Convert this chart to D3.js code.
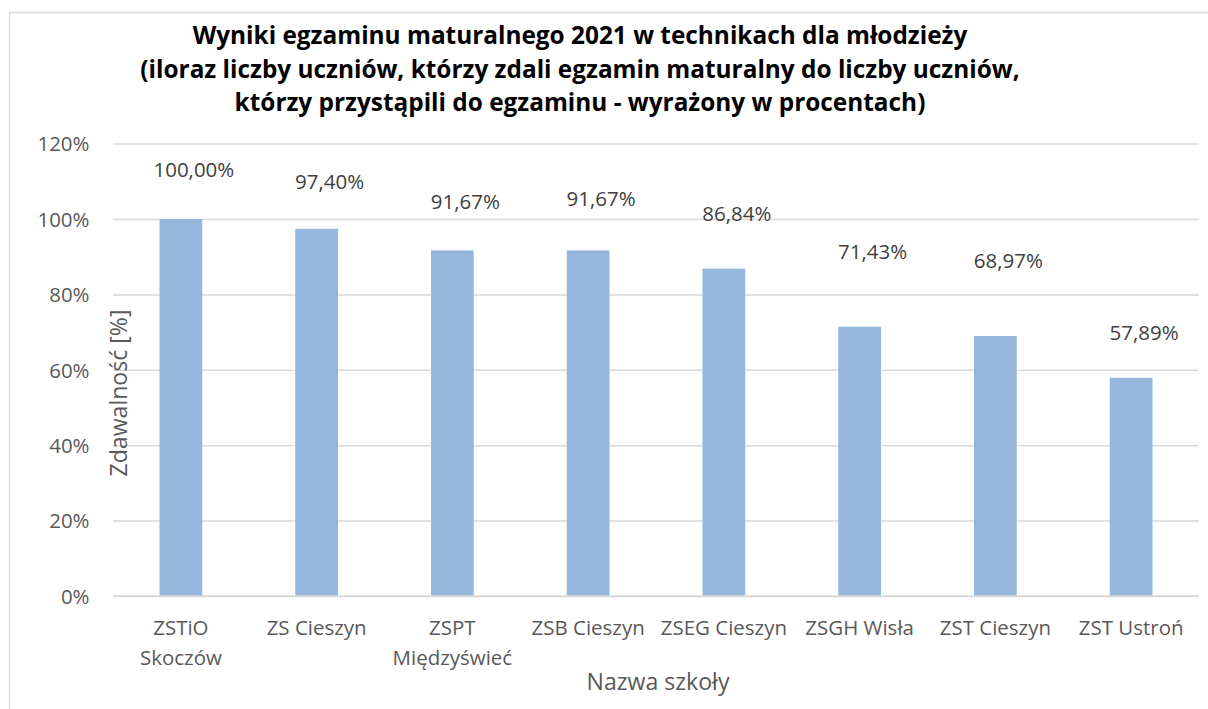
<!DOCTYPE html>
<html>
<head>
<meta charset="utf-8">
<script src="https://cdn.jsdelivr.net/npm/d3@7"></script>
<style>
  html, body { margin: 0; padding: 0; background: #ffffff; }
  svg { display: block; }
</style>
</head>
<body>
<svg id="chart" width="1208" height="709"></svg>
<script>
// ---- data ----
const categories = [
  ["ZSTiO", "Skoczów"],
  ["ZS Cieszyn"],
  ["ZSPT", "Międzyświeć"],
  ["ZSB Cieszyn"],
  ["ZSEG Cieszyn"],
  ["ZSGH Wisła"],
  ["ZST Cieszyn"],
  ["ZST Ustroń"]
];
const values = [1.0, 0.974, 0.9167, 0.9167, 0.8684, 0.7143, 0.6897, 0.5789];
const valueLabels = ["100,00%", "97,40%", "91,67%", "91,67%", "86,84%", "71,43%", "68,97%", "57,89%"];
const yTicks = [0, 0.2, 0.4, 0.6, 0.8, 1.0, 1.2];
const yTickLabels = ["0%", "20%", "40%", "60%", "80%", "100%", "120%"];
const titleLines = [
  "Wyniki egzaminu maturalnego 2021 w technikach dla młodzieży",
  "(iloraz liczby uczniów, którzy zdali egzamin maturalny do liczby uczniów,",
  "którzy przystąpili do egzaminu - wyrażony w procentach)"
];
const yAxisTitle = "Zdawalność [%]";
const xAxisTitle = "Nazwa szkoły";

// ---- layout (manual label placement as in the original) ----
const labelLift = [49, 47, 49, 52, 55, 75, 75, 45]; // px above bar top (label centre)
const labelShift = 13;                                // px right of bar centre

const svg = d3.select("#chart");
const font = "'Open Sans', 'DejaVu Sans', sans-serif";
const grey = "#595959";

// chart frame
svg.append("rect")
  .attr("x", 9.5).attr("y", 12.5)
  .attr("width", 1300).attr("height", 800)
  .attr("fill", "#fff").attr("stroke", "#d9d9d9").attr("stroke-width", 1.5);

const x = d3.scaleBand()
  .domain(d3.range(categories.length))
  .range([113, 1199])
  .paddingInner(0.685)
  .paddingOuter(0.3425);

const y = d3.scaleLinear().domain([0, 1.2]).range([596, 143.6]);

// helper: fit font size so that a sample text reaches target width
function fitSize(sample, weight, targetW) {
  const t = svg.append("text").attr("font-family", font).attr("font-weight", weight)
    .attr("font-size", 100).text(sample);
  const w = t.node().getComputedTextLength();
  t.remove();
  return 100 * targetW / w;
}
const axisSize = fitSize("ZS Cieszyn", 400, 100);
const xTitleSize = fitSize(xAxisTitle, 400, 143);
const yTitleSize = fitSize(yAxisTitle, 400, 167);
const titleSize = fitSize(titleLines[1], 700, 880);

// gridlines + y tick labels via axis
const yAxis = d3.axisLeft(y).tickValues(yTicks)
  .tickFormat((d, i) => yTickLabels[i])
  .tickSize(-(1199 - 113)).tickPadding(23.5);
const gY = svg.append("g").attr("transform", "translate(113,0)").call(yAxis);
gY.select(".domain").remove();
gY.selectAll(".tick line").attr("stroke", "#d9d9d9").attr("stroke-width", 1.5);
gY.selectAll(".tick text")
  .attr("fill", grey).attr("font-family", font).attr("font-size", axisSize)
  .attr("dy", "0.36em");

// bars
svg.append("g").selectAll("rect").data(values).join("rect")
  .attr("x", (d, i) => x(i))
  .attr("y", d => y(d))
  .attr("width", x.bandwidth())
  .attr("height", d => y(0) - y(d))
  .attr("fill", "#95b7de");

// baseline axis line on top
svg.append("line")
  .attr("x1", 113).attr("x2", 1199).attr("y1", y(0)).attr("y2", y(0))
  .attr("stroke", "#d9d9d9").attr("stroke-width", 1.5);

// data labels
svg.append("g").selectAll("text").data(values).join("text")
  .attr("x", (d, i) => x(i) + x.bandwidth() / 2 + labelShift)
  .attr("y", (d, i) => y(d) - labelLift[i])
  .attr("dy", "0.36em")
  .attr("text-anchor", "middle")
  .attr("fill", "#404040")
  .attr("font-family", font).attr("font-size", axisSize)
  .text((d, i) => valueLabels[i]);

// x category labels
const xAxis = d3.axisBottom(x).tickSize(0).tickFormat(() => "");
const gX = svg.append("g").attr("transform", `translate(0,${y(0)})`).call(xAxis);
gX.select(".domain").remove();
gX.selectAll(".tick").each(function(d) {
  const t = d3.select(this).append("text")
    .attr("text-anchor", "middle").attr("fill", grey)
    .attr("font-family", font).attr("font-size", axisSize)
    .attr("y", 38.5);
  categories[d].forEach((line, j) => {
    t.append("tspan").attr("x", 0).attr("dy", j === 0 ? 0 : 30).text(line);
  });
});

// axis titles
svg.append("text")
  .attr("transform", "translate(127,393) rotate(-90)")
  .attr("text-anchor", "middle").attr("fill", grey)
  .attr("font-family", font).attr("font-size", yTitleSize)
  .text(yAxisTitle);
svg.append("text")
  .attr("x", 658).attr("y", 690)
  .attr("text-anchor", "middle").attr("fill", grey)
  .attr("font-family", font).attr("font-size", xTitleSize)
  .text(xAxisTitle);

// title
const title = svg.append("text")
  .attr("text-anchor", "middle").attr("fill", "#000")
  .attr("font-family", font).attr("font-weight", 700).attr("font-size", titleSize);
titleLines.forEach((line, i) => {
  title.append("tspan").attr("x", 580).attr("y", 44 + i * 33.6).text(line);
});
</script>
</body>
</html>
